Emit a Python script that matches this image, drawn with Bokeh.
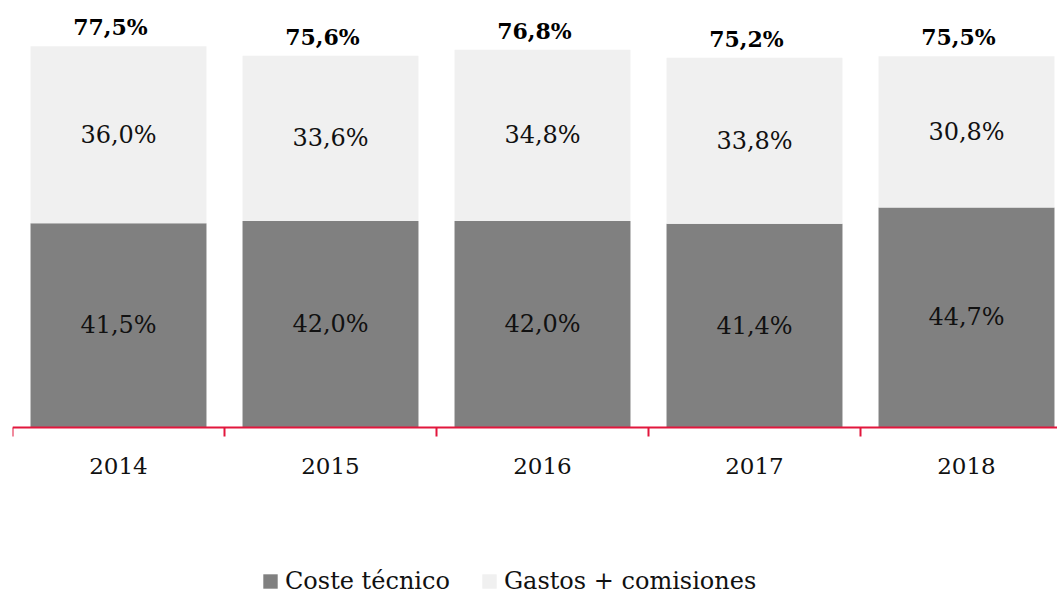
from bokeh.plotting import figure
from bokeh.models import ColumnDataSource, Range1d, FixedTicker, Legend, LegendItem
from bokeh.core.properties import value
from bokeh.embed import file_html
from bokeh.resources import INLINE

years = ["2014", "2015", "2016", "2017", "2018"]
coste_tecnico = [41.5, 42.0, 42.0, 41.4, 44.7]
gastos_comisiones = [36.0, 33.6, 34.8, 33.8, 30.8]

FONT = "DejaVu Serif"
DARK = "#808080"
LIGHT = "#f0f0f0"
RED = "#e2173d"

def fmt(v):
    return f"{v:.1f}".replace(".", ",") + "%"

x = list(range(len(years)))
totals = [a + b for a, b in zip(coste_tecnico, gastos_comisiones)]
src = ColumnDataSource(dict(
    x=x,
    ct=coste_tecnico,
    gc=gastos_comisiones,
    tot=totals,
    ct_mid=[a / 2 for a in coste_tecnico],
    gc_mid=[a + b / 2 for a, b in zip(coste_tecnico, gastos_comisiones)],
    ct_lab=[fmt(v) for v in coste_tecnico],
    gc_lab=[fmt(v) for v in gastos_comisiones],
    tot_lab=[fmt(v) for v in totals],
))

p = figure(width=1057, height=595, output_backend="svg", toolbar_location=None,
           x_range=Range1d(-0.5, -0.5 + 1045 / 212), y_range=Range1d(-34.2, 85.2),
           min_border_left=12, min_border_right=0, min_border_top=8, min_border_bottom=0)
p.outline_line_color = None
p.xgrid.visible = False
p.ygrid.visible = False
p.yaxis.visible = False

r1 = p.vbar(x="x", top="ct", bottom=0, width=0.83, source=src, fill_color=DARK, line_color=None)
r2 = p.vbar(x="x", top="tot", bottom="ct", width=0.83, source=src, fill_color=LIGHT, line_color=None)

p.text(x="x", y="ct_mid", text="ct_lab", source=src, text_align="center", text_baseline="middle",
       text_font=value(FONT), text_font_size="24px", text_color="#111111")
p.text(x="x", y="gc_mid", text="gc_lab", source=src, text_align="center", text_baseline="middle",
       text_font=value(FONT), text_font_size="24px", text_color="#111111")
p.text(x="x", y="tot", text="tot_lab", source=src, text_align="center", text_baseline="bottom",
       x_offset=-8, y_offset=-6, text_font=value(FONT), text_font_size="22px",
       text_font_style="bold", text_color="#000000")

ax = p.xaxis[0]
ax.fixed_location = 0
ax.ticker = FixedTicker(ticks=x, minor_ticks=[i - 0.5 for i in range(len(years) + 1)])
ax.major_label_overrides = {i: y for i, y in zip(x, years)}
ax.major_tick_out = 0
ax.major_tick_in = 0
ax.minor_tick_out = 9
ax.minor_tick_in = 0
ax.minor_tick_line_color = RED
ax.minor_tick_line_width = 2
ax.axis_line_color = RED
ax.axis_line_width = 2
ax.major_label_standoff = 22
ax.major_label_text_font = FONT
ax.major_label_text_font_size = "23px"
ax.major_label_text_color = "#111111"

legend = Legend(items=[LegendItem(label="Coste técnico", renderers=[r1]),
                       LegendItem(label="Gastos + comisiones", renderers=[r2])],
                orientation="horizontal", location=(249, 0),
                label_text_font=FONT, label_text_font_size="24px", label_text_color="#111111",
                glyph_width=18, glyph_height=18, label_standoff=6, spacing=30,
                padding=2, margin=0, border_line_color=None, background_fill_alpha=0)
p.add_layout(legend, "center")

open("out.html", "w").write(file_html(p, INLINE))
